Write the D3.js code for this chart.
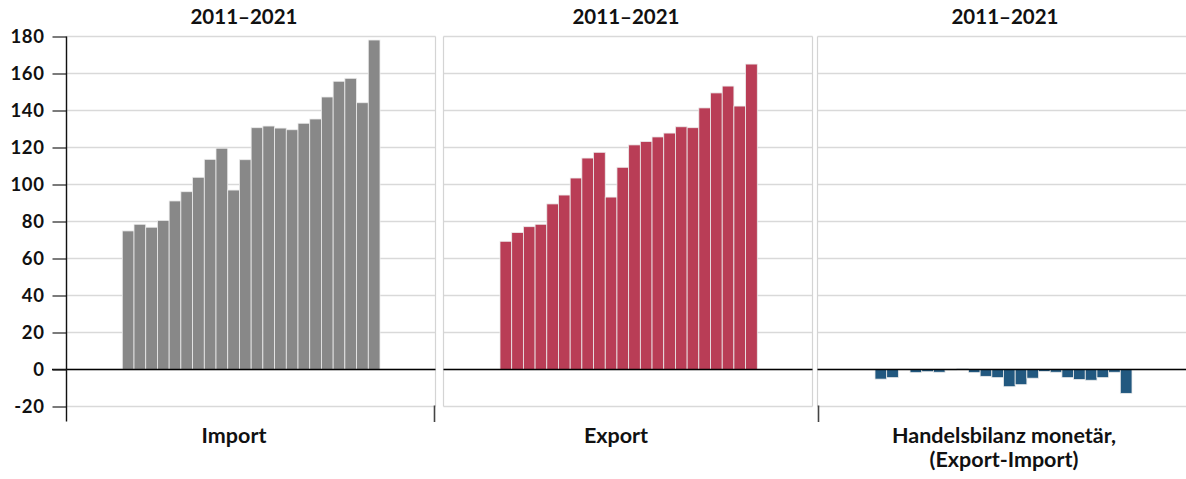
<!DOCTYPE html>
<html>
<head>
<meta charset="utf-8">
<script src="https://cdn.jsdelivr.net/npm/d3@7"></script>
<style>
  html, body { margin: 0; padding: 0; background: #fff; }
  svg { display: block; font-family: Lato, "Open Sans", sans-serif; }
</style>
</head>
<body>
<svg id="chart" width="1186" height="479"></svg>
<script>
// ---- data ----
const periods = d3.range(1, 23).map(i => "P" + i); // 22 periods, 2011–2021 (half-years)
const importValues = [74.9, 78.5, 76.9, 80.6, 91.1, 96.1, 103.9, 113.6, 119.6, 97.0, 113.4,
                      130.7, 131.6, 130.5, 129.6, 133.1, 135.4, 147.3, 155.8, 157.4, 144.2, 178.1];
const exportValues = [69.3, 74.0, 77.2, 78.5, 89.5, 94.3, 103.5, 114.3, 117.4, 93.2, 109.3,
                      121.4, 123.2, 125.7, 127.8, 131.2, 130.7, 141.4, 149.5, 153.2, 142.4, 165.1];
const balanceValues = [-5.2, -4.4, 0.2, -1.7, -1.2, -1.5, -0.3, 0.4, -1.7, -3.7, -4.4,
                       -9.3, -8.2, -4.7, -1.1, -1.5, -4.4, -5.4, -5.8, -4.4, -1.5, -12.9];
const panelTitles = ["2011–2021", "2011–2021", "2011–2021"];
const panelLabels = [["Import"], ["Export"], ["Handelsbilanz monetär,", "(Export-Import)"]];
const yTicks = [-20, 0, 20, 40, 60, 80, 100, 120, 140, 160, 180];
const colors = ["#888888", "#B93D56", "#22587F"];

// ---- layout ----
const svg = d3.select("#chart");
const y = d3.scaleLinear().domain([-20, 180]).range([406.5, 36.5]);
const panels = [
  { l: 66.5, r: 435.5, bars: [122.3, 380.0], titleX: 244, labelX: 234, values: importValues },
  { l: 443.5, r: 812.5, bars: [500.0, 757.3], titleX: 626, labelX: 616, values: exportValues },
  { l: 817.5, r: 1192, bars: [875.0, 1132.0], titleX: 1005, labelX: 1004, values: balanceValues }
];

panels.forEach((p, i) => {
  const g = svg.append("g");
  // gridlines
  g.selectAll("line.grid").data(yTicks).join("line")
    .attr("x1", p.l).attr("x2", p.r)
    .attr("y1", d => y(d)).attr("y2", d => y(d))
    .attr("stroke", "#d9d9d9").attr("stroke-width", 1.5);
  // panel side borders
  [p.l, p.r].forEach(xx => {
    g.append("line").attr("x1", xx).attr("x2", xx)
      .attr("y1", y(180)).attr("y2", y(-20))
      .attr("stroke", "#d4d4d4").attr("stroke-width", 1.2);
  });
  // bars
  const x = d3.scaleBand().domain(periods).range(p.bars).padding(0);
  g.selectAll("rect").data(p.values).join("rect")
    .attr("x", (d, j) => x(periods[j]))
    .attr("width", x.bandwidth())
    .attr("y", d => y(Math.max(0, d)))
    .attr("height", d => Math.abs(y(d) - y(0)))
    .attr("fill", colors[i])
    .attr("stroke", "#ececec").attr("stroke-width", 0.8);
  // zero line
  g.append("line").attr("x1", i === 0 ? 52 : p.l).attr("x2", p.r)
    .attr("y1", y(0)).attr("y2", y(0))
    .attr("stroke", "#000").attr("stroke-width", 1.4);
  // title
  g.append("text").attr("x", p.titleX).attr("y", 23.5)
    .attr("text-anchor", "middle").attr("font-size", 20.5).attr("font-weight", 700)
    .attr("fill", "#111").text(panelTitles[i]);
  // bottom label
  panelLabels[i].forEach((t, k) => {
    g.append("text").attr("x", p.labelX).attr("y", 443 + k * 23.5)
      .attr("text-anchor", "middle").attr("font-size", 21.5).attr("font-weight", 700)
      .attr("fill", "#111").text(t);
  });
});

// y axis
const yAxis = d3.axisLeft(y).tickValues(yTicks).tickSize(14).tickPadding(8).tickFormat(d => String(d));
const ag = svg.append("g").attr("transform", "translate(66.5,0)").call(yAxis);
ag.select(".domain").remove();
ag.selectAll(".tick line").attr("stroke", "#222").attr("stroke-width", 1.2);
ag.selectAll(".tick text").attr("font-size", 18.5).attr("font-weight", 700)
  .attr("letter-spacing", 0.6)
  .attr("fill", "#111").attr("font-family", "Lato, 'Open Sans', sans-serif");
svg.append("line").attr("x1", 66.5).attr("x2", 66.5).attr("y1", y(180)).attr("y2", 421.5)
  .attr("stroke", "#111").attr("stroke-width", 1.4);

// category divider ticks at bottom
svg.selectAll("line.div").data([434.5, 818.5]).join("line")
  .attr("x1", d => d).attr("x2", d => d).attr("y1", 405.5).attr("y2", 422)
  .attr("stroke", "#444").attr("stroke-width", 1.6);
</script>
</body>
</html>
